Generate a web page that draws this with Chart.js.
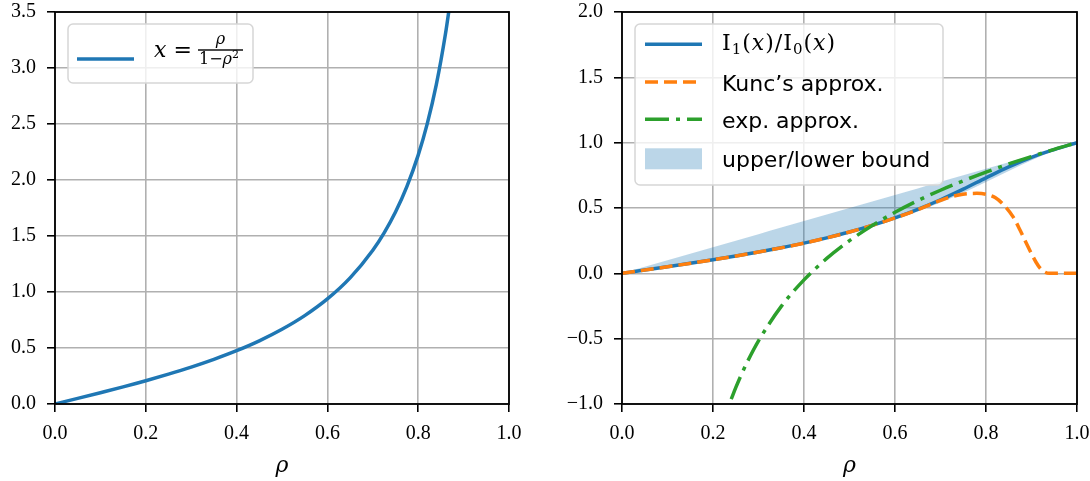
<!DOCTYPE html>
<html>
<head>
<meta charset="utf-8">
<script src="https://cdn.jsdelivr.net/npm/chart.js@4.4.1/dist/chart.umd.min.js"></script>
<style>
  body { margin: 0; background: #fff; width: 1090px; height: 481px; overflow: hidden; position: relative; }
  canvas { position: absolute; top: 0; }
  #left { left: 0; }
  #right { left: 545px; }
</style>
</head>
<body>
<canvas id="left" width="545" height="481"></canvas>
<canvas id="right" width="545" height="481"></canvas>
<script>
// left panel: x = rho / (1 - rho^2)
const leftRho = [0, 0.05, 0.1, 0.15, 0.2, 0.25, 0.3, 0.35, 0.4, 0.45, 0.5, 0.55, 0.6, 0.65, 0.7, 0.725, 0.75, 0.775, 0.8, 0.82, 0.84, 0.86, 0.87];
const leftX = [0, 0.050, 0.101, 0.153, 0.208, 0.267, 0.330, 0.399, 0.476, 0.564, 0.667, 0.789, 0.938, 1.126, 1.373, 1.528, 1.714, 1.941, 2.222, 2.503, 2.853, 3.303, 3.579];

// right panel: ratio I1/I0 and its bounds on a common rho grid
const rho = [0, 0.05, 0.1, 0.15, 0.2, 0.25, 0.3, 0.35, 0.4, 0.45, 0.5, 0.55, 0.6, 0.65, 0.7, 0.75, 0.8, 0.85, 0.9, 0.95, 1.0];
const besselRatio = [0, 0.025, 0.0505, 0.0765, 0.1035, 0.1323, 0.1628, 0.1955, 0.231, 0.2714, 0.3161, 0.3667, 0.4238, 0.4893, 0.5633, 0.6447, 0.731, 0.815, 0.888, 0.947, 1.0];
const lowerBound = [0, 0.025, 0.0504, 0.0764, 0.1034, 0.1318, 0.1619, 0.1944, 0.2296, 0.2684, 0.3113, 0.3593, 0.4132, 0.4738, 0.542, 0.6171, 0.6986, 0.7833, 0.866, 0.9406, 1.0];
const upperBound = [0, 0.05, 0.1, 0.15, 0.2, 0.25, 0.3, 0.35, 0.4, 0.45, 0.5, 0.55, 0.6, 0.65, 0.7, 0.75, 0.8, 0.85, 0.9, 0.95, 1.0];

const kuncRho = [0, 0.1, 0.2, 0.3, 0.4, 0.5, 0.6, 0.65, 0.7, 0.72, 0.74, 0.76, 0.78, 0.8, 0.82, 0.84, 0.86, 0.875, 0.89, 0.9, 0.91, 0.92, 0.93, 0.94, 0.96, 1.0];
const kuncApprox = [0, 0.0505, 0.1035, 0.1628, 0.231, 0.3161, 0.4238, 0.487, 0.558, 0.583, 0.60, 0.61, 0.612, 0.605, 0.58, 0.52, 0.43, 0.33, 0.22, 0.15, 0.085, 0.035, 0.008, 0, 0, 0];

const expRho = [0.24, 0.25, 0.26, 0.275, 0.3, 0.35, 0.4, 0.45, 0.5, 0.55, 0.6, 0.65, 0.7, 0.75, 0.8, 0.85, 0.9, 0.95, 1.0];
const expApprox = [-0.963, -0.875, -0.793, -0.681, -0.517, -0.253, -0.05, 0.114, 0.25, 0.366, 0.467, 0.556, 0.636, 0.708, 0.775, 0.837, 0.894, 0.949, 1.0];

const xTicks = [0, 0.2, 0.4, 0.6, 0.8, 1.0];

const BLUE = '#1f77b4', ORANGE = '#ff7f0e', GREEN = '#2ca02c';
const BAND = 'rgba(31,119,180,0.3)';
const GRID = '#b0b0b0';
const TICK_FONT = { family: "'Liberation Serif', serif", size: 20 };
const MATH = "'DejaVu Serif', serif";
const SANS = "'DejaVu Sans', sans-serif";

const pts = (xs, ys) => xs.map((x, i) => ({ x: x, y: ys[i] }));
const fmt = v => (v < -1e-9 ? '\u2212' : '') + Math.abs(v).toFixed(1);

function xScale() {
  return {
    type: 'linear', min: 0, max: 1,
    afterBuildTicks: s => { s.ticks = xTicks.map(v => ({ value: v })); },
    ticks: { callback: fmt, font: TICK_FONT, color: '#000', padding: 10, maxRotation: 0, autoSkip: false },
    grid: { color: GRID, lineWidth: 1.6, tickColor: '#000', tickLength: 8, tickWidth: 1.6 },
    border: { display: false },
    title: { display: true, text: 'ρ', color: '#000', font: { family: MATH, style: 'italic', size: 22 }, padding: { top: 0, bottom: 2 } },
    afterFit: s => { s.height = 77; s.paddingLeft = 0; s.paddingRight = 0; }
  };
}

function yScale(min, max, width) {
  return {
    type: 'linear', min: min, max: max,
    ticks: { stepSize: 0.5, callback: fmt, font: TICK_FONT, color: '#000', padding: 11, autoSkip: false },
    grid: { color: GRID, lineWidth: 1.6, tickColor: '#000', tickLength: 8, tickWidth: 1.6 },
    border: { display: false },
    afterFit: s => { s.width = width; s.paddingTop = 0; s.paddingBottom = 0; }
  };
}

// black box around the plotting area
const frame = {
  id: 'frame',
  afterDraw(chart) {
    const { ctx, chartArea: a } = chart;
    ctx.save();
    ctx.strokeStyle = '#000';
    ctx.lineWidth = 1.8;
    ctx.strokeRect(a.left, a.top, a.right - a.left, a.bottom - a.top);
    ctx.restore();
  }
};

function legendBox(ctx, x, y, w, h) {
  ctx.beginPath();
  ctx.roundRect(x, y, w, h, 5);
  ctx.fillStyle = 'rgba(255,255,255,0.8)';
  ctx.fill();
  ctx.strokeStyle = '#d6d6d6';
  ctx.lineWidth = 1.5;
  ctx.stroke();
}

function sample(ctx, x0, x1, y, color, dash) {
  ctx.save();
  ctx.strokeStyle = color;
  ctx.lineWidth = 3.5;
  ctx.setLineDash(dash);
  ctx.beginPath();
  ctx.moveTo(x0, y);
  ctx.lineTo(x1, y);
  ctx.stroke();
  ctx.restore();
}

// draws a row of text pieces [text, font, dy]; returns the end x
function runs(ctx, x, y, parts, gap) {
  ctx.textBaseline = 'alphabetic';
  ctx.textAlign = 'left';
  for (const [t, f, dy] of parts) {
    ctx.font = f;
    ctx.fillText(t, x, y + (dy || 0));
    x += ctx.measureText(t).width + (gap || 0);
  }
  return x;
}

const leftLegend = {
  id: 'leftLegend',
  afterDraw(chart) {
    const ctx = chart.ctx;
    ctx.save();
    legendBox(ctx, 68, 24, 185, 59);
    sample(ctx, 77, 134, 59, BLUE, []);
    ctx.fillStyle = '#000';
    runs(ctx, 154, 57, [['x', 'italic 22px ' + MATH], [' = ', '22px ' + MATH]]);
    // fraction rho / (1 - rho^2)
    ctx.fillRect(198, 49.3, 45, 1.4);
    ctx.font = 'italic 16px ' + MATH;
    ctx.textAlign = 'center';
    ctx.fillText('ρ', 220.5, 44);
    runs(ctx, 199, 64, [['1−', '16px ' + MATH], ['ρ', 'italic 16px ' + MATH], ['2', '11px ' + MATH, -6]]);
    ctx.restore();
  }
};

const rightLegend = {
  id: 'rightLegend',
  afterDraw(chart) {
    const ctx = chart.ctx;
    ctx.save();
    legendBox(ctx, 90, 24, 308, 161);
    const x0 = 100, x1 = 157, tx = 177;
    sample(ctx, x0, x1, 44.3, BLUE, []);
    sample(ctx, x0, x1, 82, ORANGE, [13, 6]);
    sample(ctx, x0, x1, 119.3, GREEN, [24, 7, 4, 7]);
    ctx.fillStyle = BAND;
    ctx.fillRect(x0, 148.3, x1 - x0, 21);
    ctx.fillStyle = '#000';
    const up = '22px ' + MATH, it = 'italic 22px ' + MATH, sub = '15px ' + MATH;
    runs(ctx, tx, 50, [['I', up], ['1', sub, 4], ['(', up], ['x', it], [')', up], ['/', up], ['I', up], ['0', sub, 4], ['(', up], ['x', it], [')', up]], 1);
    runs(ctx, tx, 90.8, [['Kunc’s approx.', '22px ' + SANS]]);
    runs(ctx, tx, 128, [['exp. approx.', '22px ' + SANS]]);
    runs(ctx, tx, 167, [['upper/lower bound', '22px ' + SANS]]);
    ctx.restore();
  }
};

const lineDefaults = { pointRadius: 0, borderWidth: 3.5, fill: false, cubicInterpolationMode: 'monotone', clip: 0 };

new Chart(document.getElementById('left'), {
  type: 'line',
  data: {
    datasets: [Object.assign({ data: pts(leftRho, leftX), borderColor: BLUE }, lineDefaults)]
  },
  options: {
    responsive: false, animation: false,
    layout: { padding: { top: 12, right: 36, bottom: 0, left: 0 } },
    plugins: { legend: { display: false }, tooltip: { enabled: false } },
    scales: { x: xScale(), y: yScale(0, 3.5, 55) }
  },
  plugins: [frame, leftLegend]
});

new Chart(document.getElementById('right'), {
  type: 'line',
  data: {
    datasets: [
      Object.assign({}, lineDefaults, { label: 'ratio', data: pts(rho, besselRatio), borderColor: BLUE, order: 2 }),
      Object.assign({}, lineDefaults, { label: 'kunc', data: pts(kuncRho, kuncApprox), borderColor: ORANGE, borderDash: [13, 6], order: 1 }),
      Object.assign({}, lineDefaults, { label: 'exp', data: pts(expRho, expApprox), borderColor: GREEN, borderDash: [24, 7, 4, 7], order: 0 }),
      Object.assign({}, lineDefaults, { label: 'upper', data: pts(rho, upperBound), borderWidth: 0, borderColor: 'rgba(0,0,0,0)', backgroundColor: BAND, fill: '+1', order: 3 }),
      Object.assign({}, lineDefaults, { label: 'lower', data: pts(rho, lowerBound), borderWidth: 0, borderColor: 'rgba(0,0,0,0)', order: 4 })
    ]
  },
  options: {
    responsive: false, animation: false,
    layout: { padding: { top: 12, right: 13, bottom: 0, left: 0 } },
    plugins: { legend: { display: false }, tooltip: { enabled: false } },
    scales: { x: xScale(), y: yScale(-1, 2, 77) }
  },
  plugins: [frame, rightLegend]
});
</script>
</body>
</html>
